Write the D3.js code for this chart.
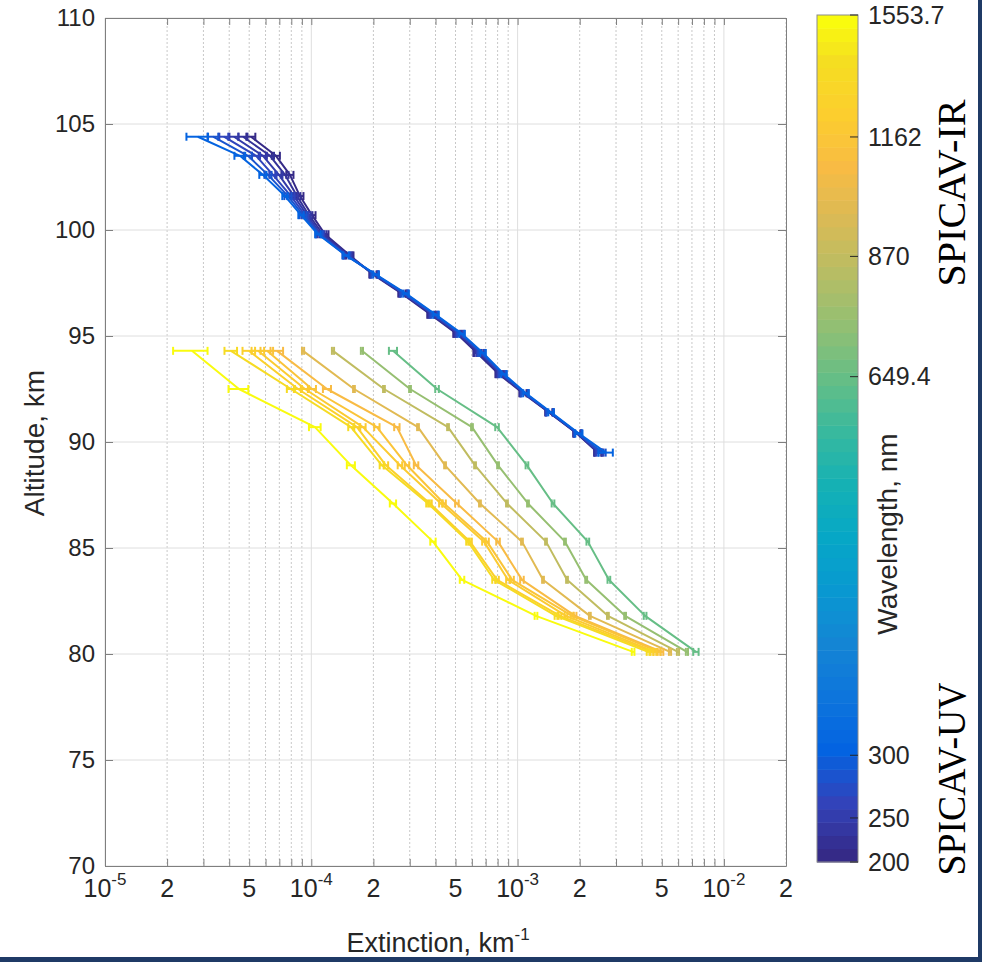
<!DOCTYPE html>
<html>
<head>
<meta charset="utf-8">
<script src="https://cdn.jsdelivr.net/npm/d3@7"></script>
<style>
  body { margin: 0; background: #fff; }
  svg text { font-family: "Liberation Sans", Arial, sans-serif; fill: #262626; }
</style>
</head>
<body>
<svg id="chart" width="982" height="962"></svg>
<script>
// ---- data ----
// SPICAV-UV profiles (one row per wavelength)
var uvWl = [200, 220, 240, 260, 280, 300];
var uvAlt = [104.4, 103.5, 102.6, 101.6, 100.7, 99.8, 98.8, 97.9, 97.0, 96.0, 95.1, 94.2, 93.2, 92.3, 91.4, 90.4, 89.5];
var uvExt = [
  [5.10e-5, 6.74e-5, 7.88e-5, 8.81e-5, 1.008e-4, 1.165e-4, 1.540e-4, 1.99e-4, 2.75e-4, 3.80e-4, 5.08e-4, 6.36e-4, 8.13e-4, 1.062e-3, 1.420e-3, 1.941e-3, 2.45e-3],
  [4.67e-5, 6.31e-5, 7.46e-5, 8.52e-5, 9.74e-5, 1.139e-4, 1.523e-4, 2.01e-4, 2.78e-4, 3.85e-4, 5.14e-4, 6.43e-4, 8.22e-4, 1.074e-3, 1.420e-3, 1.941e-3, 2.45e-3],
  [4.22e-5, 5.83e-5, 6.97e-5, 8.25e-5, 9.53e-5, 1.114e-4, 1.506e-4, 2.01e-4, 2.81e-4, 3.89e-4, 5.20e-4, 6.57e-4, 8.31e-4, 1.074e-3, 1.436e-3, 1.963e-3, 2.48e-3],
  [3.77e-5, 5.40e-5, 6.52e-5, 7.97e-5, 9.32e-5, 1.102e-4, 1.489e-4, 2.04e-4, 2.81e-4, 3.93e-4, 5.26e-4, 6.65e-4, 8.40e-4, 1.086e-3, 1.436e-3, 1.963e-3, 2.51e-3],
  [3.34e-5, 4.93e-5, 6.17e-5, 7.71e-5, 9.12e-5, 1.090e-4, 1.473e-4, 2.04e-4, 2.85e-4, 3.98e-4, 5.32e-4, 6.72e-4, 8.50e-4, 1.086e-3, 1.436e-3, 1.963e-3, 2.57e-3],
  [2.82e-5, 4.51e-5, 5.83e-5, 7.46e-5, 8.92e-5, 1.078e-4, 1.473e-4, 2.06e-4, 2.88e-4, 4.02e-4, 5.38e-4, 6.80e-4, 8.59e-4, 1.098e-3, 1.452e-3, 1.984e-3, 2.68e-3]
];
// relative errors
var uvErr = [
  [0.05, 0.045, 0.04, 0.04, 0.04, 0.04, 0.04, 0.04, 0.04, 0.04, 0.04, 0.04, 0.04, 0.04, 0.04, 0.04, 0.04],
  [0.05, 0.045, 0.04, 0.04, 0.04, 0.04, 0.04, 0.04, 0.04, 0.04, 0.04, 0.04, 0.04, 0.04, 0.04, 0.04, 0.04],
  [0.05, 0.045, 0.04, 0.04, 0.04, 0.04, 0.04, 0.04, 0.04, 0.04, 0.04, 0.04, 0.04, 0.04, 0.04, 0.04, 0.04],
  [0.05, 0.045, 0.04, 0.04, 0.04, 0.04, 0.04, 0.04, 0.04, 0.04, 0.04, 0.04, 0.04, 0.04, 0.04, 0.04, 0.04],
  [0.06, 0.045, 0.04, 0.04, 0.04, 0.04, 0.04, 0.04, 0.04, 0.04, 0.04, 0.04, 0.04, 0.04, 0.04, 0.04, 0.04],
  [0.12, 0.06, 0.04, 0.03, 0.03, 0.03, 0.03, 0.03, 0.03, 0.03, 0.03, 0.03, 0.03, 0.03, 0.03, 0.04, 0.08]
];

// SPICAV-IR profiles
var irWl = [649.4, 757, 870, 1000, 1101, 1162, 1225, 1273, 1395, 1553.7];
var irAlt = [94.3, 92.5, 90.7, 88.9, 87.1, 85.3, 83.5, 81.8, 80.1];
var irExt = [
  [2.49e-4, 4.07e-4, 7.95e-4, 1.11e-3, 1.485e-3, 2.19e-3, 2.77e-3, 4.15e-3, 7.32e-3],
  [1.76e-4, 3.01e-4, 6.01e-4, 8.04e-4, 1.123e-3, 1.697e-3, 2.15e-3, 3.32e-3, 6.62e-3],
  [1.274e-4, 2.25e-4, 4.60e-4, 6.22e-4, 8.88e-4, 1.373e-3, 1.736e-3, 2.74e-3, 5.99e-3],
  [9.12e-5, 1.61e-4, 3.29e-4, 4.45e-4, 6.57e-4, 1.05e-3, 1.328e-3, 2.24e-3, 5.48e-3],
  [6.82e-5, 1.192e-4, 2.60e-4, 3.22e-4, 5.08e-4, 8.04e-4, 1.05e-3, 1.90e-3, 5.01e-3],
  [6.10e-5, 1.008e-4, 2.08e-4, 2.91e-4, 4.40e-4, 7.11e-4, 9.40e-4, 1.835e-3, 4.85e-3],
  [5.52e-5, 9.32e-5, 1.78e-4, 2.69e-4, 4.25e-4, 6.87e-4, 8.98e-4, 1.716e-3, 4.63e-3],
  [4.99e-5, 8.62e-5, 1.665e-4, 2.30e-4, 3.76e-4, 5.88e-4, 7.95e-4, 1.605e-3, 4.48e-3],
  [4.08e-5, 7.97e-5, 1.557e-4, 2.20e-4, 3.68e-4, 5.75e-4, 7.69e-4, 1.535e-3, 4.29e-3],
  [2.64e-5, 4.46e-5, 1.042e-4, 1.557e-4, 2.489e-4, 3.89e-4, 5.38e-4, 1.228e-3, 3.63e-3]
];
var irErr = [
  [0.045, 0.02, 0.02, 0.015, 0.015, 0.015, 0.015, 0.015, 0.03],
  [0.012, 0.01, 0.01, 0.01, 0.01, 0.01, 0.01, 0.01, 0.012],
  [0.012, 0.01, 0.01, 0.01, 0.01, 0.01, 0.01, 0.01, 0.012],
  [0.012, 0.01, 0.01, 0.01, 0.01, 0.01, 0.01, 0.01, 0.012],
  [0.07, 0.045, 0.03, 0.025, 0.02, 0.02, 0.02, 0.015, 0.015],
  [0.07, 0.045, 0.03, 0.025, 0.02, 0.02, 0.02, 0.015, 0.015],
  [0.07, 0.045, 0.03, 0.025, 0.02, 0.02, 0.02, 0.015, 0.015],
  [0.07, 0.045, 0.03, 0.025, 0.02, 0.02, 0.02, 0.015, 0.015],
  [0.07, 0.045, 0.03, 0.025, 0.02, 0.02, 0.02, 0.015, 0.015],
  [0.19, 0.11, 0.065, 0.045, 0.035, 0.03, 0.025, 0.015, 0.015]
];

// colorbar ticks and where they sit along the bar (0 = bottom, 1 = top)
var cbTicks = [200, 250, 300, 649.4, 870, 1162, 1553.7];
var cbFrac = [0, 0.052, 0.126, 0.573, 0.715, 0.856, 1];

var xLabelTicks = [1e-5, 2e-5, 5e-5, 1e-4, 2e-4, 5e-4, 1e-3, 2e-3, 5e-3, 1e-2, 2e-2];
var yTicks = [70, 75, 80, 85, 90, 95, 100, 105, 110];

// parula colormap (every 4th entry of the 64-colour map, plus the last one)
var parula = ['#352a87', '#3243ba', '#0363e1', '#0d75dc', '#1485d4', '#0998d1', '#06a7c6', '#15b1b4',
              '#38b99e', '#65be86', '#92bf73', '#b7bd64', '#d9ba56', '#f8bb44', '#fcce2e', '#f5de21', '#f9fb0e'];

// ---- layout ----
var plot = {left: 105, right: 786, top: 18, bottom: 866};
var bar = {left: 817, right: 858, top: 15, bottom: 862};
var axisColor = '#7f7f7f';

var svg = d3.select('#chart');

var x = d3.scaleLog().domain([1e-5, 2e-2]).range([plot.left, plot.right]);
var y = d3.scaleLinear().domain([70, 110]).range([plot.bottom, plot.top]);

var parulaScale = d3.scaleLinear()
    .domain(parula.map(function(d, i) { return i === parula.length - 1 ? 1 : i * 4 / 63; }))
    .range(parula)
    .interpolate(d3.interpolateRgb)
    .clamp(true);

var wlToFrac = d3.scaleLinear().domain(cbTicks).range(cbFrac).clamp(true);
function colorOf(wl) { return parulaScale(wlToFrac(wl)); }

var cbY = d3.scaleLinear().domain([0, 1]).range([bar.bottom, bar.top]);

// dark frame on right and bottom edges
svg.append('rect').attr('x', 978).attr('y', 0).attr('width', 4).attr('height', 962).attr('fill', '#1f3a66');
svg.append('rect').attr('x', 0).attr('y', 957).attr('width', 982).attr('height', 5).attr('fill', '#1f3a66');

// ---- grid ----
var allX = x.ticks();
function isDecade(v) { var p = Math.log10(v); return Math.abs(p - Math.round(p)) < 1e-6; }

var grid = svg.append('g');
grid.selectAll('.minor')
    .data(allX.filter(function(v) { return !isDecade(v); }))
    .enter().append('line')
    .attr('x1', function(d) { return x(d); }).attr('x2', function(d) { return x(d); })
    .attr('y1', plot.top).attr('y2', plot.bottom)
    .attr('stroke', '#c8c8c8').attr('stroke-width', 1).attr('stroke-dasharray', '2,2');
grid.selectAll('.major')
    .data(allX.filter(isDecade))
    .enter().append('line')
    .attr('x1', function(d) { return x(d); }).attr('x2', function(d) { return x(d); })
    .attr('y1', plot.top).attr('y2', plot.bottom)
    .attr('stroke', '#dedede').attr('stroke-width', 1);
grid.selectAll('.hgrid')
    .data(yTicks)
    .enter().append('line')
    .attr('x1', plot.left).attr('x2', plot.right)
    .attr('y1', function(d) { return y(d); }).attr('y2', function(d) { return y(d); })
    .attr('stroke', '#dedede').attr('stroke-width', 1);

// ---- axes (ticks pointing inward, box on) ----
var xAxisB = d3.axisBottom(x).tickValues(allX).tickFormat('').tickSizeInner(-7).tickSizeOuter(0);
var xAxisT = d3.axisTop(x).tickValues(allX).tickFormat('').tickSizeInner(-7).tickSizeOuter(0);
var yAxisL = d3.axisLeft(y).tickValues(yTicks).tickSizeInner(-8).tickSizeOuter(0).tickPadding(10);
var yAxisR = d3.axisRight(y).tickValues(yTicks).tickFormat('').tickSizeInner(-8).tickSizeOuter(0);

svg.append('g').attr('transform', 'translate(0,' + plot.bottom + ')').call(xAxisB).attr('color', axisColor);
svg.append('g').attr('transform', 'translate(0,' + plot.top + ')').call(xAxisT).attr('color', axisColor);
var yl = svg.append('g').attr('transform', 'translate(' + plot.left + ',0)').call(yAxisL).attr('color', axisColor);
svg.append('g').attr('transform', 'translate(' + plot.right + ',0)').call(yAxisR).attr('color', axisColor);
yl.selectAll('text')
    .attr('font-size', 24)
    .style('font-family', '"Liberation Sans", Arial, sans-serif')
    .style('fill', '#262626');

// x tick labels: 10^n at decades, plain mantissa otherwise
var xl = svg.append('g');
xLabelTicks.forEach(function(v) {
  var p = Math.floor(Math.log10(v) + 1e-9);
  var m = Math.round(v / Math.pow(10, p));
  var t = xl.append('text')
      .attr('x', x(v)).attr('y', 897)
      .attr('text-anchor', 'middle')
      .attr('font-size', 25);
  if (m === 1) {
    t.append('tspan').text('10');
    t.append('tspan').attr('dy', -12).attr('font-size', 17).text(String(p));
  } else {
    t.text(String(m));
  }
});

// axis titles
var xt = svg.append('text').attr('x', 438).attr('y', 952).attr('text-anchor', 'middle').attr('font-size', 27);
xt.append('tspan').text('Extinction, km');
xt.append('tspan').attr('dy', -12).attr('font-size', 17).text('-1');

svg.append('text')
    .attr('transform', 'translate(44,443) rotate(-90)')
    .attr('text-anchor', 'middle').attr('font-size', 28)
    .text('Altitude, km');

// ---- profiles ----
function makeSeries(wls, alts, ext, err) {
  return wls.map(function(wl, i) {
    return {
      wl: wl,
      color: colorOf(wl),
      pts: alts.map(function(a, j) { return {a: a, v: ext[i][j], e: err[i][j]}; })
    };
  });
}
var series = makeSeries(uvWl, uvAlt, uvExt, uvErr).concat(makeSeries(irWl, irAlt, irExt, irErr));

var linePath = d3.line()
    .x(function(d) { return x(d.v); })
    .y(function(d) { return y(d.a); });

var plotArea = svg.append('g');
series.forEach(function(s) {
  var g = plotArea.append('g').attr('stroke', s.color).attr('fill', 'none').attr('stroke-width', 2);
  g.append('path')
      .attr('d', linePath(s.pts))
      .attr('stroke-linejoin', 'round');
  var eb = g.selectAll('g.eb').data(s.pts).enter().append('g');
  eb.append('line')
      .attr('x1', function(d) { return x(d.v * (1 - d.e)); })
      .attr('x2', function(d) { return x(d.v * (1 + d.e)); })
      .attr('y1', function(d) { return y(d.a); })
      .attr('y2', function(d) { return y(d.a); });
  eb.append('line')
      .attr('x1', function(d) { return x(d.v * (1 - d.e)); })
      .attr('x2', function(d) { return x(d.v * (1 - d.e)); })
      .attr('y1', function(d) { return y(d.a) - 4; })
      .attr('y2', function(d) { return y(d.a) + 4; });
  eb.append('line')
      .attr('x1', function(d) { return x(d.v * (1 + d.e)); })
      .attr('x2', function(d) { return x(d.v * (1 + d.e)); })
      .attr('y1', function(d) { return y(d.a) - 4; })
      .attr('y2', function(d) { return y(d.a) + 4; });
});

// ---- colorbar ----
var nBands = 64;
var cb = svg.append('g');
cb.selectAll('rect.band')
    .data(d3.range(nBands))
    .enter().append('rect')
    .attr('x', bar.left).attr('width', bar.right - bar.left)
    .attr('y', function(i) { return cbY((i + 1) / nBands); })
    .attr('height', function(i) { return cbY(i / nBands) - cbY((i + 1) / nBands) + 0.5; })
    .attr('fill', function(i) { return parulaScale(i / (nBands - 1)); });
cb.append('rect')
    .attr('x', bar.left).attr('y', bar.top)
    .attr('width', bar.right - bar.left).attr('height', bar.bottom - bar.top)
    .attr('fill', 'none').attr('stroke', '#8c8c8c').attr('stroke-width', 1);
cbTicks.forEach(function(t) {
  var ty = cbY(wlToFrac(t));
  cb.append('line')
      .attr('x1', bar.right - 8).attr('x2', bar.right)
      .attr('y1', ty).attr('y2', ty)
      .attr('stroke', '#262626').attr('stroke-width', 1);
  cb.append('text')
      .attr('x', bar.right + 10).attr('y', ty)
      .attr('dy', '0.35em')
      .attr('font-size', 25)
      .text(String(t));
});
svg.append('text')
    .attr('transform', 'translate(897,534) rotate(-90)')
    .attr('text-anchor', 'middle').attr('font-size', 28)
    .text('Wavelength, nm');

// instrument labels
svg.append('text')
    .attr('transform', 'translate(965,193) rotate(-90)')
    .attr('text-anchor', 'middle').attr('font-size', 40)
    .attr('textLength', 187).attr('lengthAdjust', 'spacingAndGlyphs')
    .style('font-family', '"Liberation Serif", "Times New Roman", serif').style('fill', '#000')
    .text('SPICAV-IR');
svg.append('text')
    .attr('transform', 'translate(965,779) rotate(-90)')
    .attr('text-anchor', 'middle').attr('font-size', 40)
    .attr('textLength', 193).attr('lengthAdjust', 'spacingAndGlyphs')
    .style('font-family', '"Liberation Serif", "Times New Roman", serif').style('fill', '#000')
    .text('SPICAV-UV');
</script>
</body>
</html>
